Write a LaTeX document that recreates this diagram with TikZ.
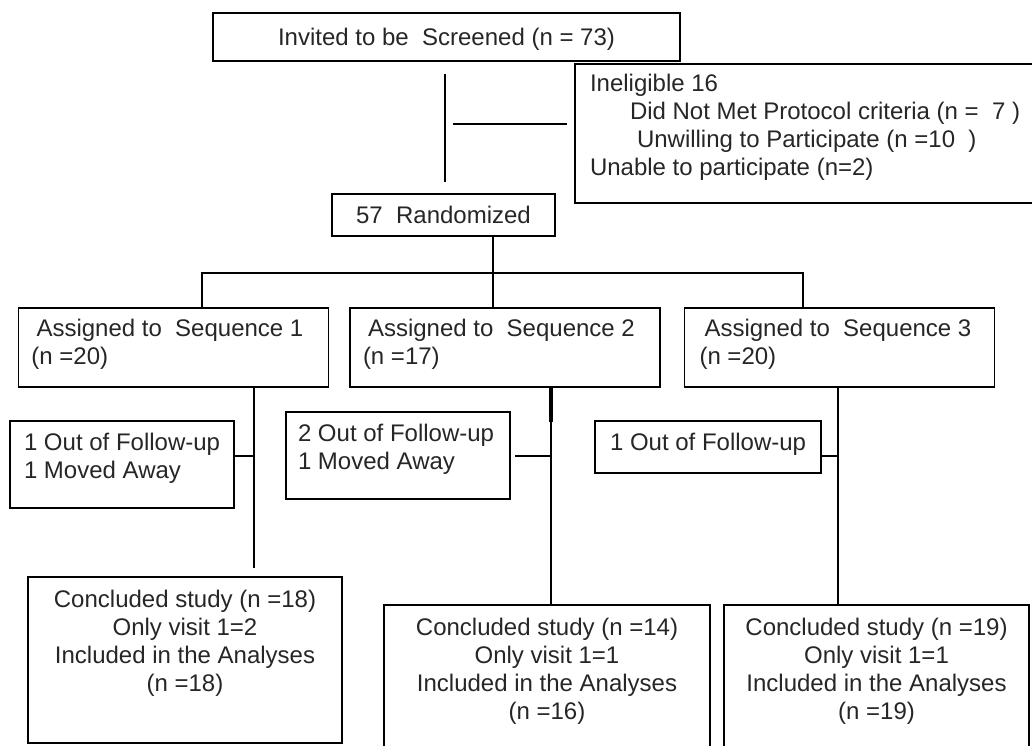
\documentclass[tikz,border=0pt]{standalone}
\usepackage{fontspec}
\setmainfont{Liberation Sans}
\newcommand{\chartfont}{\fontsize{24}{28}\selectfont}

\begin{document}
\begin{tikzpicture}[x=1pt, y=-1pt,
  box/.style={draw, line width=1.9pt, inner sep=0pt, font=\chartfont, text=black!85},
  link/.style={line width=1.7pt}]
  \newcommand{\boxLines}[4]{%
    \parbox[c][#2pt][t]{#1pt}{\vspace*{#3pt}#4}%
  }
  \useasboundingbox (0,0) rectangle (1032,745);

  \node[box] (invite) at (446.5,37) {\boxLines{467}{48}{15}{\centering Invited to be\ \ Screened (n = 73)}};
  \node[box] (inelig) at (807.5,133.5) {\boxLines{465}{139}{10}{\raggedright\leftskip=15pt
    Ineligible 16\\
    \hspace*{40pt}Did Not Met Protocol criteria (n =\ \ 7 )\\
    \hspace*{47pt}Unwilling to Participate (n =10\ \ )\\
    Unable to participate (n=2)}};
  \node[box] (rand) at (443.5,215) {\boxLines{223}{42}{12}{\centering 57\ \ Randomized}};

  \node[box] (seq1) at (173.5,347.5) {\boxLines{310}{79}{11}{\raggedright\leftskip=13pt
    \hspace*{5pt}Assigned to\ \ Sequence 1\\(n =20)}};
  \node[box] (seq2) at (505,347.5) {\boxLines{310}{79}{11}{\raggedright\leftskip=13pt
    \hspace*{5pt}Assigned to\ \ Sequence 2\\(n =17)}};
  \node[box] (seq3) at (839.5,347.5) {\boxLines{310}{79}{11}{\raggedright\leftskip=15pt
    \hspace*{5pt}Assigned to\ \ Sequence 3\\(n =20)}};

  \node[box] (out1) at (122,464.5) {\boxLines{224}{87}{12}{\raggedright\leftskip=14pt
    1 Out of Follow-up\\1 Moved Away}};
  \node[box] (out2) at (398,455.5) {\boxLines{224}{87}{12}{\raggedright\leftskip=12pt
    2 Out of Follow-up\\1 Moved Away}};
  \node[box] (out3) at (708,447) {\boxLines{226}{52}{12}{\raggedright\leftskip=15pt
    1 Out of Follow-up}};

  \node[box] (concl1) at (185,660) {\boxLines{314}{166}{13}{\centering
    Concluded study (n =18)\\Only visit 1=2\\Included in the Analyses\\(n =18)}};
  \node[box] (concl2) at (547,688) {\boxLines{326}{166}{13}{\centering
    Concluded study (n =14)\\Only visit 1=1\\Included in the Analyses\\(n =16)}};
  \node[box] (concl3) at (876.5,688) {\boxLines{305}{166}{13}{\centering
    Concluded study (n =19)\\Only visit 1=1\\Included in the Analyses\\(n =19)}};

  % screening to randomization
  \coordinate (split) at (445,124);
  \draw[link, shorten <=12pt, shorten >=11pt] (invite.south -| split) -- (rand.north -| split);
  \draw[link, shorten <=8pt, shorten >=7pt] (split) -- (split -| inelig.west);

  % randomization to sequences
  \coordinate (fork) at (493,273);
  \draw[link] (rand.south -| fork) -- (fork);
  \draw[link] ([xshift=28.5]seq1.north) |- (fork) -| ([xshift=-36.5]seq3.north);
  \draw[link] (fork) -- (fork |- seq2.north);

  % sequences to conclusion
  \coordinate (tap1) at (254,456);
  \coordinate (tap2) at (551,456);
  \coordinate (tap3) at (838,456);
  \draw[link, shorten >=8pt] (seq1.south -| tap1) -- (concl1.north -| tap1);
  \draw[link] (seq2.south -| tap2) -- (concl2.north -| tap2);
  \draw[line width=3.2pt] (seq2.south -| tap2) -- ++(0,34);
  \draw[link] (seq3.south -| tap3) -- (concl3.north -| tap3);
  \draw[link] (tap1 -| out1.east) -- (tap1);
  \draw[link, shorten <=4pt] (tap2 -| out2.east) -- (tap2);
  \draw[link] (tap3 -| out3.east) -- (tap3);
\end{tikzpicture}
\end{document}
